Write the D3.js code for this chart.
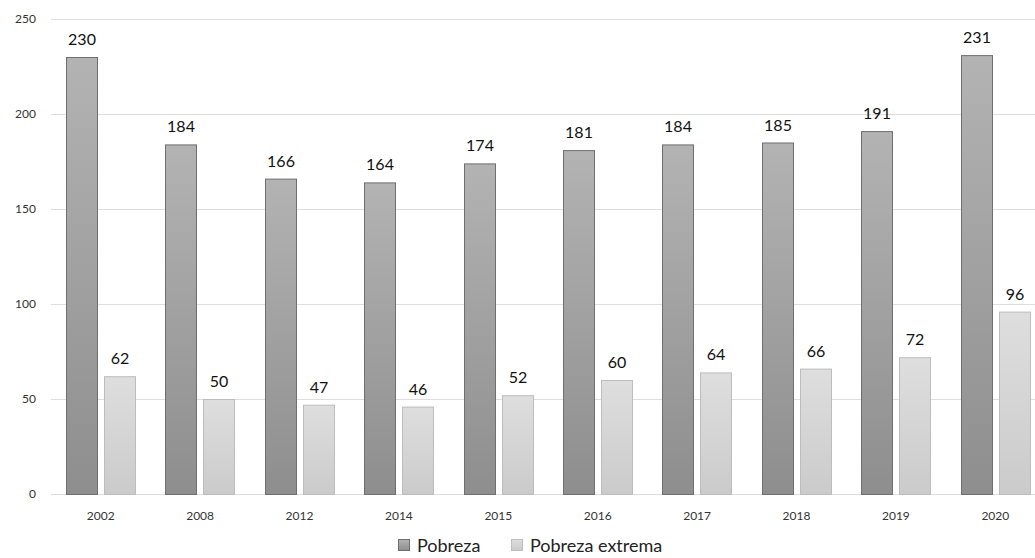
<!DOCTYPE html>
<html>
<head>
<meta charset="utf-8">
<script src="https://cdn.jsdelivr.net/npm/d3@7"></script>
<style>
  body { margin: 0; background: #fff; }
  svg { display: block; font-family: Lato, "Open Sans", sans-serif; }
</style>
</head>
<body>
<svg id="chart" width="1035" height="558"></svg>
<script>
const years = ['2002', '2008', '2012', '2014', '2015', '2016', '2017', '2018', '2019', '2020'];
const pobreza = [230, 184, 166, 164, 174, 181, 184, 185, 191, 231];
const pobrezaExtrema = [62, 50, 47, 46, 52, 60, 64, 66, 72, 96];
const yTicks = [0, 50, 100, 150, 200, 250];
const seriesNames = ['Pobreza', 'Pobreza extrema'];

const svg = d3.select('#chart');
const plotLeft = 51, plotRight = 1045, plotTop = 19, plotBottom = 494;

const x = d3.scaleBand().domain(years).range([plotLeft, plotRight]);
const y = d3.scaleLinear().domain([0, 250]).range([plotBottom, plotTop]);

// gradients
const defs = svg.append('defs');
const grads = [
  { id: 'gDark', c0: '#b3b3b3', c1: '#8e8e8e' },
  { id: 'gLight', c0: '#dedede', c1: '#cbcbcb' }
];
grads.forEach(g => {
  const lg = defs.append('linearGradient').attr('id', g.id)
    .attr('x1', 0).attr('y1', 0).attr('x2', 0).attr('y2', 1);
  lg.append('stop').attr('offset', '0%').attr('stop-color', g.c0);
  lg.append('stop').attr('offset', '100%').attr('stop-color', g.c1);
});

// grid
svg.append('g').selectAll('line').data(yTicks).join('line')
  .attr('x1', plotLeft).attr('x2', 1035)
  .attr('y1', d => y(d) + 0.5).attr('y2', d => y(d) + 0.5)
  .attr('stroke', '#dedede').attr('stroke-width', 1.2);

svg.append('g').selectAll('text').data(yTicks).join('text')
  .attr('x', 36).attr('y', d => y(d) + 4)
  .attr('text-anchor', 'end')
  .attr('font-size', 12).attr('fill', '#333')
  .text(d => d);

const barW = 31, gap = 7;
const offs = [15, 15 + barW + gap];
const series = [
  { values: pobreza, fill: 'url(#gDark)', stroke: '#6f6f6f' },
  { values: pobrezaExtrema, fill: 'url(#gLight)', stroke: '#bdbdbd' }
];

series.forEach((s, si) => {
  const g = svg.append('g');
  g.selectAll('rect').data(years).join('rect')
    .attr('x', d => Math.round(x(d) + offs[si]) + 0.5)
    .attr('y', (d, i) => y(s.values[i]) + 0.5)
    .attr('width', barW)
    .attr('height', (d, i) => plotBottom - y(s.values[i]))
    .attr('fill', s.fill)
    .attr('stroke', s.stroke).attr('stroke-width', 1);
  g.selectAll('text').data(years).join('text')
    .attr('x', d => Math.round(x(d) + offs[si]) + barW / 2 + 0.5)
    .attr('y', (d, i) => y(s.values[i]) - 12)
    .attr('text-anchor', 'middle')
    .attr('font-size', 16).attr('fill', '#111')
    .text((d, i) => s.values[i]);
});

// x labels
svg.append('g').selectAll('text').data(years).join('text')
  .attr('x', d => x(d) + x.bandwidth() / 2)
  .attr('y', 520)
  .attr('text-anchor', 'middle')
  .attr('font-size', 12).attr('fill', '#333')
  .text(d => d);

// legend
const legend = svg.append('g');
const legendItems = [
  { name: seriesNames[0], x: 398, fill: 'url(#gDark)', stroke: '#6f6f6f' },
  { name: seriesNames[1], x: 511, fill: 'url(#gLight)', stroke: '#bdbdbd' }
];
legendItems.forEach(it => {
  legend.append('rect').attr('x', it.x + 0.5).attr('y', 539.5).attr('width', 11).attr('height', 11)
    .attr('fill', it.fill).attr('stroke', it.stroke);
  legend.append('text').attr('x', it.x + 19).attr('y', 551.5)
    .attr('font-size', 18).attr('fill', '#222').text(it.name);
});
</script>
</body>
</html>
